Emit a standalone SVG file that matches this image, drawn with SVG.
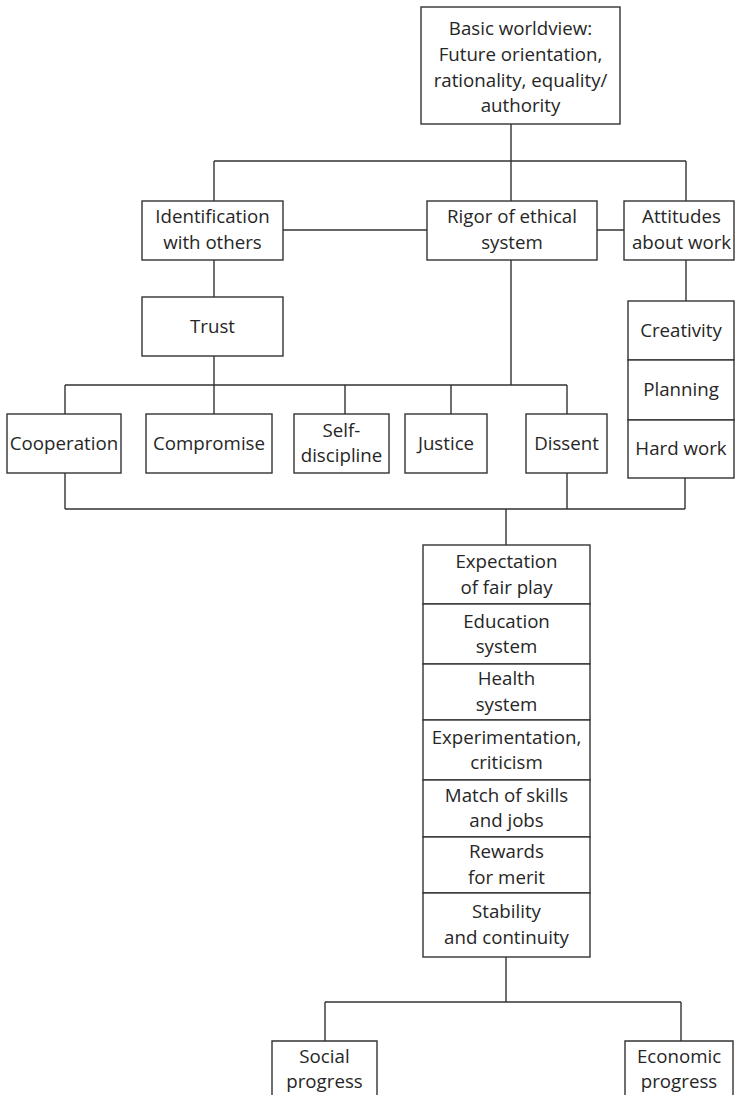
<svg xmlns="http://www.w3.org/2000/svg" width="735" height="1095" viewBox="0 0 735 1095">
  <style>
    .box { fill: #ffffff; stroke: #333333; stroke-width: 1.4; }
    .wire { fill: none; stroke: #333333; stroke-width: 1.4; }
    text { font-family: "Open Sans", "Noto Sans", sans-serif; font-size: 18.7px; fill: #262626; text-anchor: middle; }
  </style>
  <rect width="735" height="1095" fill="#ffffff"/>

  <!-- connectors -->
  <g id="connectors" class="wire">
    <path d="M511 124 V201 M214 161 H686 M214 161 V201 M686 161 V201"/>
    <path d="M283 230 H427 M597 230 H624"/>
    <path d="M214 260 V297 M214 356 V385 M511 260 V385"/>
    <path d="M65 385 H567 M65 385 V414 M214 385 V414 M345 385 V414 M451 385 V414 M567 385 V414"/>
    <path d="M686 260 V301"/>
    <path d="M65 473 V509 M567 473 V509 M685 478 V509 M65 509 H685 M506 509 V545"/>
    <path d="M506 957 V1002 M325 1002 H681 M325 1002 V1041 M681 1002 V1041"/>
  </g>

  <g id="worldview">
    <rect class="box" x="421" y="7" width="199" height="117"/>
    <text x="520.5" y="35">Basic worldview:</text>
    <text x="520.5" y="61">Future orientation,</text>
    <text x="520.5" y="87">rationality, equality/</text>
    <text x="520.5" y="112">authority</text>
  </g>

  <g id="identification">
    <rect class="box" x="142" y="201" width="141" height="59"/>
    <text x="212.5" y="223">Identification</text>
    <text x="212.5" y="249">with others</text>
  </g>

  <g id="rigor">
    <rect class="box" x="427" y="201" width="170" height="59"/>
    <text x="512" y="223">Rigor of ethical</text>
    <text x="512" y="249">system</text>
  </g>

  <g id="attitudes">
    <rect class="box" x="624" y="201" width="110" height="59"/>
    <text x="681.5" y="223">Attitudes</text>
    <text x="681.5" y="249">about work</text>
  </g>

  <g id="trust">
    <rect class="box" x="142" y="297" width="141" height="59"/>
    <text x="212.5" y="333">Trust</text>
  </g>

  <g id="cooperation">
    <rect class="box" x="7" y="414" width="114" height="59"/>
    <text x="64" y="450">Cooperation</text>
  </g>

  <g id="compromise">
    <rect class="box" x="146" y="414" width="126" height="59"/>
    <text x="209" y="450">Compromise</text>
  </g>

  <g id="self-discipline">
    <rect class="box" x="294" y="414" width="95" height="59"/>
    <text x="341.5" y="437">Self-</text>
    <text x="341.5" y="462">discipline</text>
  </g>

  <g id="justice">
    <rect class="box" x="405" y="414" width="82" height="59"/>
    <text x="446" y="450">Justice</text>
  </g>

  <g id="dissent">
    <rect class="box" x="526" y="414" width="81" height="59"/>
    <text x="566.5" y="450">Dissent</text>
  </g>

  <g id="work-traits">
    <rect class="box" x="628" y="301" width="106" height="59"/>
    <rect class="box" x="628" y="360" width="106" height="60"/>
    <rect class="box" x="628" y="420" width="106" height="58"/>
    <text x="681" y="337">Creativity</text>
    <text x="681" y="396">Planning</text>
    <text x="681" y="455">Hard work</text>
  </g>

  <g id="institutions">
    <rect class="box" x="423" y="545" width="167" height="59"/>
    <rect class="box" x="423" y="604" width="167" height="60"/>
    <rect class="box" x="423" y="664" width="167" height="56"/>
    <rect class="box" x="423" y="720" width="167" height="60"/>
    <rect class="box" x="423" y="780" width="167" height="57"/>
    <rect class="box" x="423" y="837" width="167" height="56"/>
    <rect class="box" x="423" y="893" width="167" height="64"/>
    <text x="506.5" y="568">Expectation</text>
    <text x="506.5" y="594">of fair play</text>
    <text x="506.5" y="628">Education</text>
    <text x="506.5" y="653">system</text>
    <text x="506.5" y="685">Health</text>
    <text x="506.5" y="711">system</text>
    <text x="506.5" y="744">Experimentation,</text>
    <text x="506.5" y="769">criticism</text>
    <text x="506.5" y="802">Match of skills</text>
    <text x="506.5" y="827">and jobs</text>
    <text x="506.5" y="858">Rewards</text>
    <text x="506.5" y="884">for merit</text>
    <text x="506.5" y="918">Stability</text>
    <text x="506.5" y="944">and continuity</text>
  </g>

  <g id="social-progress">
    <path class="box" d="M272 1095 V1041 H377 V1095"/>
    <text x="324.5" y="1063">Social</text>
    <text x="324.5" y="1088">progress</text>
  </g>

  <g id="economic-progress">
    <path class="box" d="M625 1095 V1041 H733 V1095"/>
    <text x="679" y="1063">Economic</text>
    <text x="679" y="1088">progress</text>
  </g>
</svg>
